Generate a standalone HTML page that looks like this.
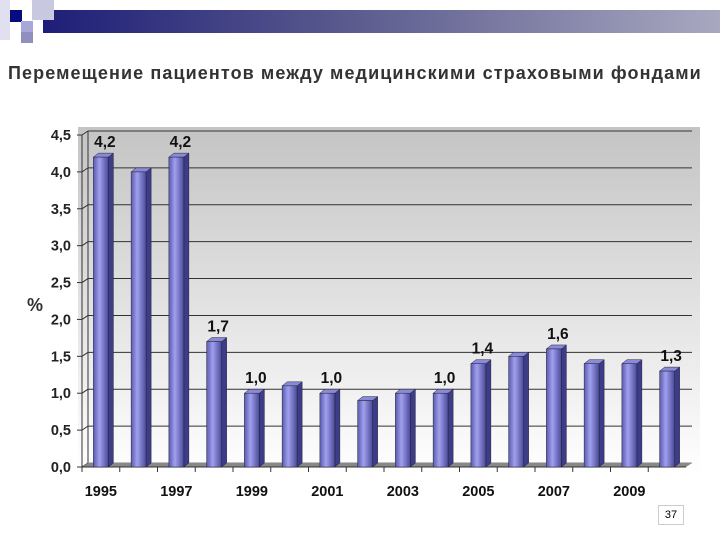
<!DOCTYPE html>
<html><head><meta charset="utf-8"><style>
body{margin:0;width:720px;height:540px;background:#fff;position:relative;overflow:hidden;font-family:"Liberation Sans","DejaVu Sans",sans-serif}
</style></head><body>
<div style="position:absolute;left:43px;top:10px;width:677px;height:23px;background:linear-gradient(90deg,#1e1e78,#5a5a8e 45%,#a8a8c0)"></div>
<div style="position:absolute;left:10px;top:10px;width:12px;height:12px;background:#0a0a80"></div>
<div style="position:absolute;left:32px;top:0px;width:22px;height:20px;background:#c8c8e0"></div>
<div style="position:absolute;left:21px;top:21px;width:12px;height:12px;background:#a8a8d8"></div>
<div style="position:absolute;left:21px;top:32px;width:12px;height:11px;background:#9090c0"></div>
<div style="position:absolute;left:0px;top:0px;width:10px;height:40px;background:#e0e0f0"></div>
<div style="position:absolute;left:8px;top:63px;font-size:18px;letter-spacing:1.1px;font-weight:bold;color:#333;white-space:nowrap">Перемещение пациентов между медицинскими страховыми фондами</div>
<svg width="720" height="540" style="position:absolute;left:0;top:0">
<defs>
<linearGradient id="bg" x1="0" y1="0" x2="0" y2="1"><stop offset="0" stop-color="#c4c4c4"/><stop offset="1" stop-color="#ffffff"/></linearGradient>
<linearGradient id="bar" x1="0" y1="0" x2="1" y2="0"><stop offset="0" stop-color="#5a5ab0"/><stop offset="0.4" stop-color="#a0a0ee"/><stop offset="1" stop-color="#4a4a9a"/></linearGradient>
</defs>
<rect x="78" y="127" width="622" height="348" fill="url(#bg)"/>
<g id="g"></g>
<text x="27" y="311" font-size="18" font-weight="bold" fill="#333">%</text>
</svg>
<div style="position:absolute;left:658px;top:505px;width:24px;height:18px;border:1px solid #ccc;font-size:11px;text-align:center;line-height:18px;color:#000">37</div>
<script>
const years=[1995,1996,1997,1998,1999,2000,2001,2002,2003,2004,2005,2006,2007,2008,2009,2010];
const values=[4.2,4.0,4.2,1.7,1.0,1.1,1.0,0.9,1.0,1.0,1.4,1.5,1.6,1.4,1.4,1.3];
const labelShown=[1,0,1,1,1,0,1,0,0,1,1,0,1,0,0,1];
const yTicks=[0,0.5,1,1.5,2,2.5,3,3.5,4,4.5];
const xTickYears=[1995,1997,1999,2001,2003,2005,2007,2009];
const ns="http://www.w3.org/2000/svg",g=document.getElementById('g');
const X0=82,X1=686,Y0=467,YT=135,DX=6,DY=4;
const y=v=>Y0-(v/4.5)*(Y0-YT);
const slot=(X1-X0)/years.length;
const x=i=>X0+slot*i+slot/2;
function el(t,a,name){const e=document.createElementNS(ns,t);for(const k in a)e.setAttribute(k,a[k]);


g.appendChild(e);return e;}
el('line',{x1:X0+DX,y1:y(4.5)-DY,x2:X0+DX,y2:Y0-DY,stroke:'#333'},'back-wall-left');
yTicks.forEach(t=>{
 el('line',{x1:X0+DX,y1:y(t)-DY,x2:X1+DX,y2:y(t)-DY,stroke:t==0?'#888':'#333','stroke-width':1},'gridline');
 el('line',{x1:X0-5,y1:y(t),x2:X0,y2:y(t),stroke:'#333'},'y-tick');
 el('line',{x1:X0,y1:y(t),x2:X0+DX,y2:y(t)-DY,stroke:'#333'},'y-tick-diag');
 const tx=el('text',{x:X0-11,y:y(t)+5,'text-anchor':'end','font-size':14.5,'font-weight':'bold',fill:'#222'},'y-tick-label');
 tx.textContent=t.toFixed(1).replace('.',',');
});
el('line',{x1:X0,y1:y(4.5),x2:X0,y2:Y0,stroke:'#333'},'y-axis');
el('polygon',{points:`${X0},${Y0} ${X0+DX},${Y0-DY} ${X1+DX},${Y0-DY} ${X1},${Y0}`,fill:'#888'},'floor');
el('line',{x1:X0,y1:Y0,x2:X1,y2:Y0,stroke:'#333'},'x-axis');
years.forEach((yr,i)=>{
 el('line',{x1:X0+slot*i,y1:Y0,x2:X0+slot*i,y2:Y0+5,stroke:'#333'},'x-tick');
});
const bw=15;
values.forEach((v,i)=>{
 const cx=x(i),l=cx-bw/2,t=y(v);
 el('polygon',{points:`${l+bw},${t} ${l+bw+DX-1},${t-DY} ${l+bw+DX-1},${Y0-DY} ${l+bw},${Y0}`,fill:'#3c3c88',stroke:'#223','stroke-width':0.5},'bar-side-'+years[i]);
 el('polygon',{points:`${l},${t} ${l+DX-1},${t-DY} ${l+bw+DX-1},${t-DY} ${l+bw},${t}`,fill:'#8a8ad8',stroke:'#223','stroke-width':0.5},'bar-top-'+years[i]);
 el('rect',{x:l,y:t,width:bw,height:Y0-t,fill:'url(#bar)',stroke:'#223','stroke-width':0.5},'bar-'+years[i]);
 if(labelShown[i]){const tx=el('text',{x:cx+4,y:t-10,'text-anchor':'middle','font-size':15.5,'font-weight':'bold',fill:'#111'},'value-label-'+years[i]);tx.textContent=v.toFixed(1).replace('.',',');}
});
xTickYears.forEach(yr=>{const i=years.indexOf(yr);
 const tx=el('text',{x:x(i),y:496,'text-anchor':'middle','font-size':14.5,'font-weight':'bold',fill:'#111'},'x-tick-label');tx.textContent=yr;});
</script>
</body></html>
